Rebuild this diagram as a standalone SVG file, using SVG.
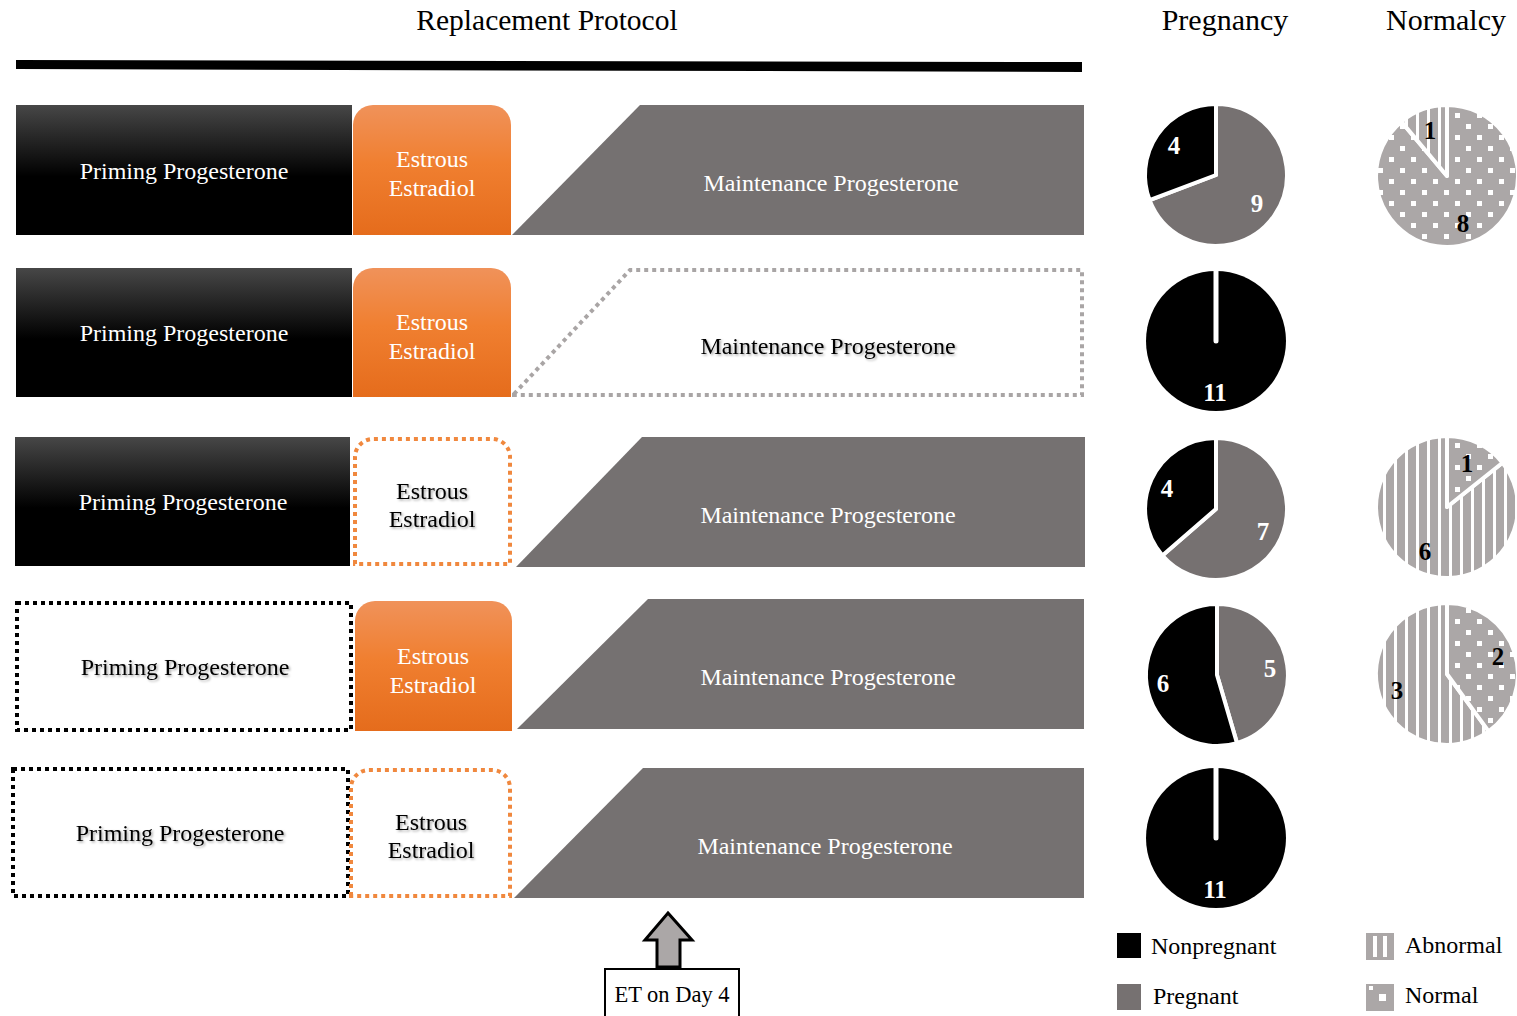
<svg xmlns="http://www.w3.org/2000/svg" width="1517" height="1016" viewBox="0 0 1517 1016">
<defs>
<linearGradient id="gBlack" x1="0" y1="0" x2="0" y2="1">
<stop offset="0" stop-color="#474747"/><stop offset="0.55" stop-color="#000"/><stop offset="1" stop-color="#000"/>
</linearGradient>
<linearGradient id="gOrange" x1="0" y1="0" x2="0" y2="1">
<stop offset="0" stop-color="#F0925A"/><stop offset="0.45" stop-color="#F07F30"/><stop offset="1" stop-color="#E56C1C"/>
</linearGradient>
<pattern id="pStripe" patternUnits="userSpaceOnUse" width="11" height="11">
<rect width="11" height="11" fill="#ABA7A7"/><rect x="8" width="3" height="11" fill="#fff"/>
</pattern>
<pattern id="pDots" patternUnits="userSpaceOnUse" width="22" height="22">
<rect width="22" height="22" fill="#ABA7A7"/><rect x="3" y="3" width="5" height="5" fill="#fff"/><rect x="14" y="14" width="5" height="5" fill="#fff"/>
</pattern>
<filter id="shadow" x="-10%" y="-30%" width="120%" height="160%">
<feDropShadow dx="1.5" dy="1.5" stdDeviation="1" flood-color="#000" flood-opacity="0.35"/>
</filter>
</defs>
<style>
.t{font-family:"Liberation Serif","Times New Roman",serif;}
.lbl{font-family:"Liberation Serif","Times New Roman",serif;font-size:24px;text-anchor:middle;}
.w{fill:#fff;}
.k{fill:#000;}
.prime{fill:url(#gBlack);}
.orange{fill:url(#gOrange);}
.maint{fill:#757171;}
.dotK{fill:none;stroke:#000;stroke-width:4;stroke-dasharray:4 4;}
.dotO{fill:none;stroke:#F0883E;stroke-width:4;stroke-dasharray:4 4;}
.dotG{fill:none;stroke:#A9A5A5;stroke-width:4;stroke-dasharray:4 4;}
.sh{filter:url(#shadow);}
.pk{fill:#000;stroke:#fff;stroke-width:4;stroke-linejoin:round;}
.pg{fill:#767171;stroke:#fff;stroke-width:4;stroke-linejoin:round;}
.pa{fill:url(#pStripe);stroke:#fff;stroke-width:4;stroke-linejoin:round;}
.pn{fill:url(#pDots);stroke:#fff;stroke-width:4;stroke-linejoin:round;}
.num{font-family:"Liberation Serif","Times New Roman",serif;font-size:25px;font-weight:bold;text-anchor:middle;}
.leg{font-family:"Liberation Serif","Times New Roman",serif;font-size:24px;}
</style>
<rect width="1517" height="1016" fill="#fff"/>

<g id="headers">
<text class="t" x="547" y="30" font-size="29.5" text-anchor="middle">Replacement Protocol</text>
<text class="t" x="1225" y="30" font-size="30" text-anchor="middle">Pregnancy</text>
<text class="t" x="1446" y="30" font-size="30" text-anchor="middle">Normalcy</text>
<polygon points="16,60 1082,62 1082,72 16,69" fill="#000"/>
</g>

<!-- Row 1 -->
<g id="r1-priming"><rect x="16" y="105" width="336" height="130" class="prime"/><text class="lbl w" x="184" y="179">Priming Progesterone</text></g>
<g id="r1-estradiol"><path d="M353,235 V125 A20,20 0 0 1 373,105 H491 A20,20 0 0 1 511,125 V235 Z" class="orange"/><text class="lbl w" x="432" y="167">Estrous</text><text class="lbl w" x="432" y="196">Estradiol</text></g>
<g id="r1-maintenance"><polygon points="512,235 640,105 1084,105 1084,235" class="maint"/><text class="lbl w" x="831" y="191">Maintenance Progesterone</text></g>

<!-- Row 2 -->
<g id="r2-priming"><rect x="16" y="268" width="336" height="129" class="prime"/><text class="lbl w" x="184" y="341">Priming Progesterone</text></g>
<g id="r2-estradiol"><path d="M353,397 V288 A20,20 0 0 1 373,268 H491 A20,20 0 0 1 511,288 V397 Z" class="orange"/><text class="lbl w" x="432" y="330">Estrous</text><text class="lbl w" x="432" y="359">Estradiol</text></g>
<g id="r2-maintenance"><polygon points="514,394 630,270 1082,270 1082,395 514,395" class="dotG"/><text class="lbl k sh" x="828" y="354">Maintenance Progesterone</text></g>

<!-- Row 3 -->
<g id="r3-priming"><rect x="15" y="437" width="335" height="129" class="prime"/><text class="lbl w" x="183" y="510">Priming Progesterone</text></g>
<g id="r3-estradiol"><path d="M355,564 V457 A18,18 0 0 1 373,439 H492 A18,18 0 0 1 510,457 V564 Z" class="dotO"/><text class="lbl k sh" x="432" y="499">Estrous</text><text class="lbl k sh" x="432" y="527">Estradiol</text></g>
<g id="r3-maintenance"><polygon points="516,567 642,437 1085,437 1085,567" class="maint"/><text class="lbl w" x="828" y="523">Maintenance Progesterone</text></g>

<!-- Row 4 -->
<g id="r4-priming"><rect x="17" y="603" width="334" height="127" class="dotK"/><text class="lbl k sh" x="185" y="675">Priming Progesterone</text></g>
<g id="r4-estradiol"><path d="M355,731 V621 A20,20 0 0 1 375,601 H492 A20,20 0 0 1 512,621 V731 Z" class="orange"/><text class="lbl w" x="433" y="664">Estrous</text><text class="lbl w" x="433" y="693">Estradiol</text></g>
<g id="r4-maintenance"><polygon points="517,729 648,599 1084,599 1084,729" class="maint"/><text class="lbl w" x="828" y="685">Maintenance Progesterone</text></g>

<!-- Row 5 -->
<g id="r5-priming"><rect x="13" y="769" width="335" height="127" class="dotK"/><text class="lbl k sh" x="180" y="841">Priming Progesterone</text></g>
<g id="r5-estradiol"><path d="M351,896 V788 A18,18 0 0 1 369,770 H492 A18,18 0 0 1 510,788 V896 Z" class="dotO"/><text class="lbl k sh" x="431" y="830">Estrous</text><text class="lbl k sh" x="431" y="858">Estradiol</text></g>
<g id="r5-maintenance"><polygon points="514,898 643,768 1084,768 1084,898" class="maint"/><text class="lbl w" x="825" y="854">Maintenance Progesterone</text></g>

<!-- Pregnancy pies -->
<g id="preg1">
<path class="pg" d="M1216,175 L1149.6,200.2 A71,71 0 1 0 1216,104 Z"/>
<path class="pk" d="M1216,175 L1216,104 A71,71 0 0 0 1149.6,200.2 Z"/>
<text class="num w" x="1174" y="154">4</text><text class="num w" x="1257" y="212">9</text>
</g>
<g id="preg2">
<circle cx="1216" cy="341" r="70" fill="#000"/>
<line x1="1216" y1="268" x2="1216" y2="341" stroke="#fff" stroke-width="5" stroke-linecap="round"/>
<text class="num w" x="1215" y="401">11</text>
</g>
<g id="preg3">
<path class="pg" d="M1216,509 L1162.4,555.5 A71,71 0 1 0 1216,438 Z"/>
<path class="pk" d="M1216,509 L1216,438 A71,71 0 0 0 1162.4,555.5 Z"/>
<text class="num w" x="1167" y="497">4</text><text class="num w" x="1263" y="540">7</text>
</g>
<g id="preg4">
<path class="pg" d="M1217,675 L1217,604 A71,71 0 0 1 1237,743.1 Z"/>
<path class="pk" d="M1217,675 L1237,743.1 A71,71 0 1 1 1217,604 Z"/>
<text class="num w" x="1163" y="692">6</text><text class="num w" x="1270" y="677">5</text>
</g>
<g id="preg5">
<circle cx="1216" cy="838" r="70" fill="#000"/>
<line x1="1216" y1="765" x2="1216" y2="838" stroke="#fff" stroke-width="5" stroke-linecap="round"/>
<text class="num w" x="1215" y="898">11</text>
</g>

<!-- Normalcy pies -->
<g id="norm1">
<path class="pn" d="M1447,176 L1401.4,121.6 A71,71 0 1 0 1447,105 Z"/>
<path class="pa" d="M1447,176 L1447,105 A71,71 0 0 0 1401.4,121.6 Z"/>
<text class="num k" x="1430" y="139">1</text><text class="num k" x="1463" y="232">8</text>
</g>
<g id="norm3">
<path class="pa" d="M1447,507 L1502.5,462.7 A71,71 0 1 1 1447,436 Z"/>
<path class="pn" d="M1447,507 L1447,436 A71,71 0 0 1 1502.5,462.7 Z"/>
<text class="num k" x="1467" y="472">1</text><text class="num k" x="1425" y="560">6</text>
</g>
<g id="norm4">
<path class="pa" d="M1447,674 L1488.7,731.4 A71,71 0 1 1 1447,603 Z"/>
<path class="pn" d="M1447,674 L1447,603 A71,71 0 0 1 1488.7,731.4 Z"/>
<text class="num k" x="1498" y="665">2</text><text class="num k" x="1397" y="699">3</text>
</g>

<!-- Legend -->
<g id="legend">
<rect x="1117" y="933" width="24" height="25" fill="#000"/>
<text class="leg" x="1151" y="954">Nonpregnant</text>
<rect x="1117" y="984" width="24" height="26" fill="#767171"/>
<text class="leg" x="1153" y="1004">Pregnant</text>
<rect x="1366" y="933" width="28" height="27" fill="#ABA7A7"/>
<rect x="1373" y="936" width="4" height="21" fill="#fff"/>
<rect x="1383" y="936" width="4" height="21" fill="#fff"/>
<text class="leg" x="1405" y="953">Abnormal</text>
<rect x="1366" y="984" width="28" height="27" fill="#ABA7A7"/>
<rect x="1369" y="986" width="4" height="4" fill="#fff"/>
<rect x="1379" y="994" width="7" height="7" fill="#fff"/>
<text class="leg" x="1405" y="1003">Normal</text>
</g>

<g id="connectors">
<path d="M668,913 L692,940 L680,940 L680,967 L657,967 L657,940 L645,940 Z" fill="#ABA7A7" stroke="#000" stroke-width="3" stroke-linejoin="miter"/>
</g>

<g id="et-day4">
<rect x="605" y="969" width="134" height="50" fill="#fff" stroke="#000" stroke-width="2"/>
<text class="t" x="672" y="1002" font-size="22.5" text-anchor="middle">ET on Day 4</text>
</g>
</svg>
